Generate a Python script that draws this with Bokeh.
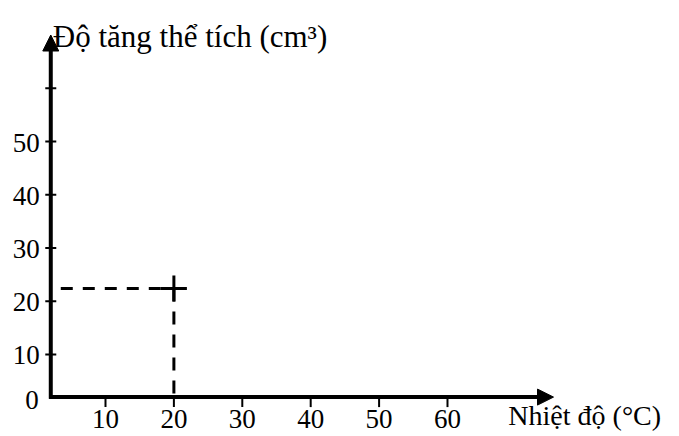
from bokeh.plotting import figure
from bokeh.models import Range1d, Arrow, NormalHead
from bokeh.core.properties import value
from bokeh.embed import file_html
from bokeh.resources import INLINE

# ---- data ----
x_ticks = [10, 20, 30, 40, 50, 60]
x_tick_labels = ["10", "20", "30", "40", "50", "60"]
y_ticks = [10, 20, 30, 40, 50, 60]
y_tick_labels = ["10", "20", "30", "40", "50", ""]
origin_label = "0"
temperature = [20]          # °C
volume_increase = [22.4]    # cm3
x_title = "Nhiệt độ (°C)"
y_title = "Độ tăng thể tích (cm³)"

# axis geometry (data units)
axis_x0 = 2      # where the vertical axis stands
axis_y0 = 2      # where the horizontal axis lies
x_axis_end = 75.5
y_axis_end = 70

W, H = 679, 436
x0, x1 = -5.35, 93.92
y0, y1 = -5.40, 76.48
kx = W / (x1 - x0)
ky = H / (y1 - y0)

FONT = value("Liberation Serif")
FS = "27px"
INK = "#000000"

p = figure(width=W, height=H, output_backend="svg", toolbar_location=None,
           x_range=Range1d(x0, x1), y_range=Range1d(y0, y1),
           x_axis_type=None, y_axis_type=None, min_border=0,
           background_fill_color="white", border_fill_color="white")
p.outline_line_color = None
p.grid.visible = False

# axes with arrow heads
p.add_layout(Arrow(end=NormalHead(size=16, fill_color=INK, line_color=INK),
                   x_start=axis_x0, y_start=axis_y0 - 0.3, x_end=axis_x0, y_end=y_axis_end,
                   line_width=4, line_color=INK))
p.add_layout(Arrow(end=NormalHead(size=16, fill_color=INK, line_color=INK),
                   x_start=axis_x0 - 0.25, y_start=axis_y0, x_end=x_axis_end, y_end=axis_y0,
                   line_width=4, line_color=INK))

# y ticks (crossing the axis)
p.scatter(x=[axis_x0] * len(y_ticks), y=y_ticks, marker="dash", size=11,
          line_width=2, line_color=INK)
# x ticks (below the axis)
p.segment(x0=x_ticks, y0=[axis_y0] * len(x_ticks), x1=x_ticks,
          y1=[axis_y0 - 10 / ky] * len(x_ticks), line_width=2, line_color=INK)

# tick labels
p.text(x=[axis_x0] * len(y_ticks), y=y_ticks, text=y_tick_labels,
       text_align="right", text_baseline="middle", x_offset=-11, y_offset=1,
       text_font=FONT, text_font_size=FS, text_color=INK)
p.text(x=x_ticks, y=[axis_y0] * len(x_ticks), text=x_tick_labels,
       text_align="center", text_baseline="top", y_offset=13,
       text_font=FONT, text_font_size=FS, text_color=INK)
p.text(x=[axis_x0], y=[axis_y0], text=[origin_label],
       text_align="right", text_baseline="middle", x_offset=-12, y_offset=3,
       text_font=FONT, text_font_size=FS, text_color=INK)

# axis titles
p.text(x=[axis_x0], y=[y_axis_end], text=[y_title],
       text_align="left", text_baseline="alphabetic", x_offset=2, y_offset=1,
       text_font=FONT, text_font_size="31px", text_color=INK)
p.text(x=[68.9], y=[axis_y0], text=[x_title],
       text_align="left", text_baseline="middle", y_offset=18,
       text_font=FONT, text_font_size="28px", text_color=INK)

# dashed guide lines to the measured point
tx, vy = temperature[0], volume_increase[0]
p.line(x=[axis_x0, tx], y=[vy, vy], line_dash="12 10", line_dash_offset=12,
       line_width=3, line_color=INK)
p.line(x=[tx, tx], y=[vy, axis_y0], line_dash="13 10",
       line_width=3, line_color=INK)
p.scatter(x=temperature, y=volume_increase, marker="cross", size=26,
          line_width=3, line_color=INK)

open("out.html", "w").write(file_html(p, INLINE))
